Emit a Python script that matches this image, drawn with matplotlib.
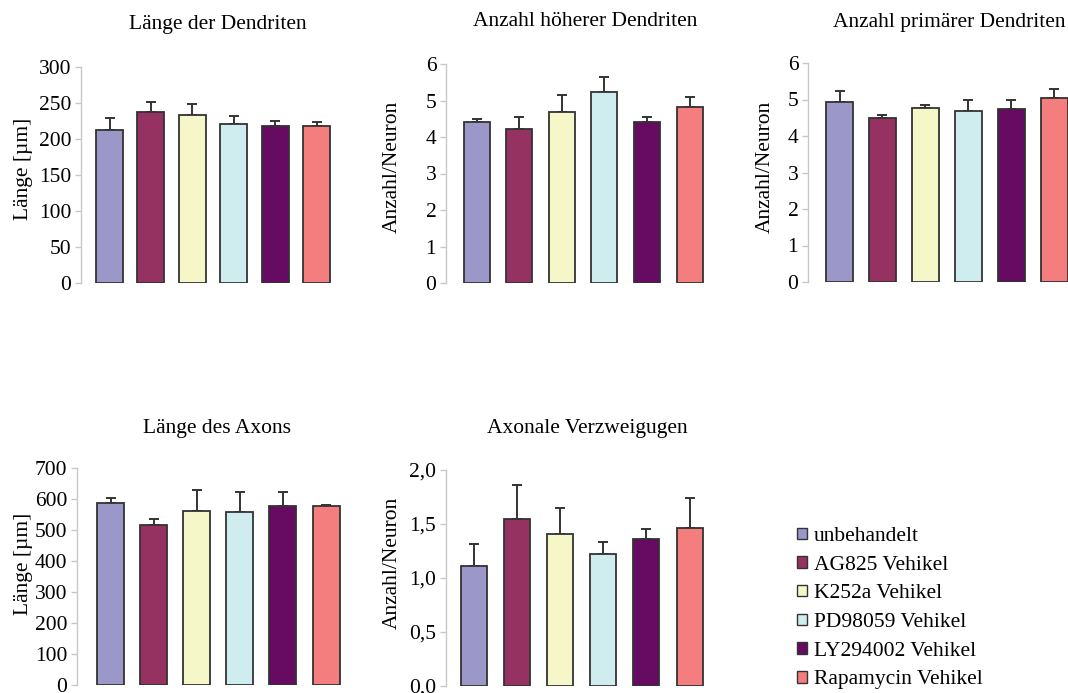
import numpy as np
import matplotlib
matplotlib.use('Agg')
import matplotlib.pyplot as plt
from matplotlib.patches import Patch
from matplotlib.ticker import FuncFormatter

plt.rcParams['font.family'] = ['Liberation Serif', 'DejaVu Serif']

groups = ['unbehandelt', 'AG825 Vehikel', 'K252a Vehikel', 'PD98059 Vehikel',
          'LY294002 Vehikel', 'Rapamycin Vehikel']
colors = ['#9b97c9', '#963262', '#f5f7c9', '#cfecee', '#660a62', '#f47d7d']

# means and upper error (absolute top of error bar)
dend_len = [213, 238, 233, 221.5, 218, 218]
dend_len_top = [229, 251, 248, 232, 225, 224]
higher_dend = [4.40, 4.23, 4.68, 5.24, 4.40, 4.82]
higher_dend_top = [4.49, 4.54, 5.16, 5.65, 4.54, 5.10]
prim_dend = [4.93, 4.49, 4.76, 4.69, 4.74, 5.05]
prim_dend_top = [5.22, 4.58, 4.86, 5.00, 4.98, 5.28]
axon_len = [587, 516, 562, 558, 578, 578]
axon_len_top = [602, 537, 630, 624, 624, 582]
axon_branch = [1.114, 1.546, 1.404, 1.219, 1.358, 1.466]
axon_branch_top = [1.312, 1.858, 1.648, 1.330, 1.454, 1.744]

W, H = 1068, 693
fig = plt.figure(figsize=(W/100, H/100), dpi=100)
FS = 15.5

# layout in pixels: axis x, first bar centre, bar spacing, bar width,
# y of top tick, y of zero, title centre, ylabel right edge / centre y
panels = [
    ('Länge der Dendriten', 'Länge [µm]', dend_len, dend_len_top, 300, 50, '{:.0f}',
     81, 109.5, 41.4, 27, 67, 283, (218, 25), (33, 168.5)),
    ('Anzahl höherer Dendriten', 'Anzahl/Neuron', higher_dend, higher_dend_top, 6, 1, '{:.0f}',
     446, 476.5, 42.6, 26, 64, 283, (585, 22), (402, 166.5)),
    ('Anzahl primärer Dendriten', 'Anzahl/Neuron', prim_dend, prim_dend_top, 6, 1, '{:.0f}',
     808, 839.5, 42.9, 27, 63, 282, (949, 22), (775, 167)),
    ('Länge des Axons', 'Länge [µm]', axon_len, axon_len_top, 700, 100, '{:.0f}',
     77, 110.5, 43.1, 27, 468, 685, (217, 428), (33, 563.5)),
    ('Axonale Verzweigugen', 'Anzahl/Neuron', axon_branch, axon_branch_top, 2.0, 0.5, 'comma',
     446, 474, 43.1, 26, 470, 686, (587, 429), (402, 562.5)),
]

for (title, ylab, vals, tops, ymax, ystep, fmt, ax_x, c0, sp, bw, ytop, yzero,
     txy, yl) in panels:
    left_u = (c0 - ax_x) / sp
    right_px = c0 + 5 * sp + (c0 - ax_x)
    ax = fig.add_axes([ax_x / W, (H - yzero) / H, (right_px - ax_x) / W, (yzero - ytop) / H])
    x = np.arange(len(vals))
    err = np.array(tops) - np.array(vals)
    ax.bar(x, vals, width=bw / sp, color=colors, edgecolor='#333333', linewidth=1.3, zorder=2)
    ax.errorbar(x, vals, yerr=[np.zeros(len(vals)), err], fmt='none', ecolor='#333333',
                elinewidth=1.4, capsize=3.5, capthick=1.4, zorder=1)
    ax.set_xlim(-left_u, 5 + left_u)
    ax.set_ylim(0, ymax)
    ax.set_yticks(np.arange(0, ymax + ystep / 2, ystep))
    if fmt == 'comma':
        ax.yaxis.set_major_formatter(FuncFormatter(lambda v, p: f'{v:.1f}'.replace('.', ',')))
    for s in ['top', 'right', 'bottom']:
        ax.spines[s].set_visible(False)
    ax.spines['left'].set_color('#c8c8c8')
    ax.spines['left'].set_linewidth(1.0)
    ax.tick_params(axis='y', direction='out', length=4, width=1.0, color='#c8c8c8',
                   labelsize=FS, pad=3)
    ax.set_xticks([])
    ax.set_ylabel(ylab, fontsize=FS)
    ax.yaxis.set_label_coords((yl[0] - ax_x) / (right_px - ax_x),
                              (yzero - yl[1]) / (yzero - ytop))
    fig.text(txy[0] / W, 1 - txy[1] / H, title, fontsize=FS, ha='center', va='center')

handles = [Patch(facecolor=c, edgecolor='#333333', linewidth=1.0) for c in colors]
fig.legend(handles, groups, loc='upper left', bbox_to_anchor=(797 / W, 1 - 527 / H),
           frameon=False, fontsize=FS, handlelength=0.45, handleheight=0.45,
           handletextpad=0.33, labelspacing=0.45, borderpad=0, borderaxespad=0)

fig.savefig('out.png', dpi=100)
